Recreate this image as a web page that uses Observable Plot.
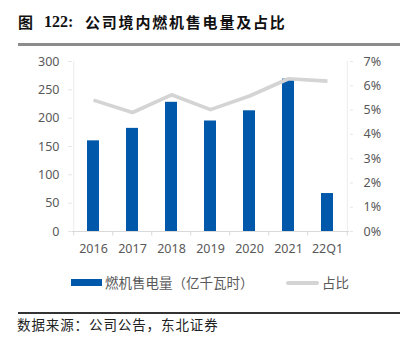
<!DOCTYPE html>
<html>
<head>
<meta charset="utf-8">
<script src="https://cdn.jsdelivr.net/npm/d3@7"></script>
<script src="https://cdn.jsdelivr.net/npm/@observablehq/plot@0.6"></script>
<style>
  html, body { margin: 0; padding: 0; background: #fff; }
  #wrap { position: relative; width: 406px; height: 338px; overflow: hidden; font-family: "Noto Sans CJK SC", "Noto Sans", sans-serif; }
  .abs { position: absolute; white-space: nowrap; }
  #chart { position: absolute; left: 0; top: 50px; }
</style>
</head>
<body>
<div id="wrap">
  <div class="abs" style="left:18px;top:12px;font-size:15px;font-weight:bold;color:#111;line-height:20px;">图</div>
  <div class="abs" style="left:44px;top:12px;font-size:16px;font-weight:bold;color:#111;line-height:20px;font-family:'Liberation Serif',serif;">122:</div>
  <div class="abs" style="left:85px;top:12px;font-size:15px;font-weight:bold;color:#111;line-height:20px;letter-spacing:1.8px;">公司境内燃机售电量及占比</div>
  <div class="abs" style="left:18px;top:42.5px;width:382px;height:3px;background:#8c8c8c;"></div>
  <div id="chart"></div>
  <div class="abs" style="left:71px;top:279px;width:31px;height:7px;background:#0058AA;"></div>
  <div class="abs" style="left:105px;top:273px;font-size:13.5px;color:#595959;line-height:18px;">燃机售电量（亿千瓦时）</div>
  <div class="abs" style="left:286px;top:281px;width:33px;height:3.5px;background:#d4d4d4;border-radius:2px;"></div>
  <div class="abs" style="left:322px;top:273px;font-size:13.5px;color:#595959;line-height:18px;">占比</div>
  <div class="abs" style="left:18px;top:312px;width:382px;height:1.5px;background:#333;"></div>
  <div class="abs" style="left:17px;top:315px;font-size:13.5px;color:#222;line-height:18px;letter-spacing:0.9px;">数据来源：公司公告，东北证券</div>
</div>
<script>
const categories = ["2016", "2017", "2018", "2019", "2020", "2021", "22Q1"];
const salesValues = [160, 182, 228, 195, 213, 269, 67];        // 亿千瓦时
const shareValues = [5.41, 4.90, 5.63, 5.02, 5.58, 6.29, 6.19]; // %
const leftTicks = [0, 50, 100, 150, 200, 250, 300];
const rightTicks = [0, 1, 2, 3, 4, 5, 6, 7]; // %

const leftMax = 300, rightMax = 7;
const toLeft = p => p * leftMax / rightMax;

const data = categories.map((c, i) => ({cat: c, sales: salesValues[i], share: shareValues[i]}));

const W = 406, H = 210, mL = 72, mR = 57, mT = 11, mB = 29;
const step = (W - mL - mR) / categories.length;
const tickColor = "#595959";
const axisLine = "#d9d9d9";

const chart = Plot.plot({
  width: W,
  height: H,
  marginLeft: mL,
  marginRight: mR,
  marginTop: mT,
  marginBottom: mB,
  style: {fontFamily: "'Noto Sans', sans-serif", fontSize: "12px", color: tickColor, background: "transparent"},
  x: {domain: categories, type: "band", paddingInner: 0.69, paddingOuter: 0.345, label: null},
  y: {domain: [0, leftMax], label: null},
  marks: [
    Plot.ruleX([categories[0]], {dx: -step / 2, y1: 0, y2: leftMax, stroke: "#ececec"}),
    Plot.ruleX([categories[categories.length - 1]], {dx: step / 2, y1: 0, y2: leftMax, stroke: "#ececec"}),
    Plot.barY(data, {x: "cat", y: "sales", fill: "#0058AA"}),
    Plot.line(data, {x: "cat", y: d => toLeft(d.share), stroke: "#d4d4d4", strokeWidth: 3.6, strokeLinejoin: "round", strokeLinecap: "butt"}),
    Plot.ruleY([0], {stroke: axisLine, strokeWidth: 1}),
    Plot.axisX({tickSize: 0, tickPadding: 13, fill: tickColor, fontSize: 12.5}),
    Plot.axisX({tickSize: 4.5, dx: -step / 2, stroke: axisLine, tickFormat: () => ""}),
    Plot.axisX([categories[categories.length - 1]], {tickSize: 4.5, dx: step / 2, stroke: axisLine, tickFormat: () => ""}),
    Plot.axisY(leftTicks, {anchor: "left", tickSize: 4, tickPadding: 9, stroke: "#e6e6e6", fill: tickColor, fontSize: 12.5, label: null}),
    Plot.axisY(rightTicks.map(toLeft), {anchor: "right", tickSize: 3, tickPadding: 11, stroke: "#e6e6e6", fill: tickColor, fontSize: 12.5, label: null, tickFormat: d => Math.round(d * rightMax / leftMax) + "%"})
  ]
});
document.getElementById("chart").appendChild(chart);
</script>
</body>
</html>
